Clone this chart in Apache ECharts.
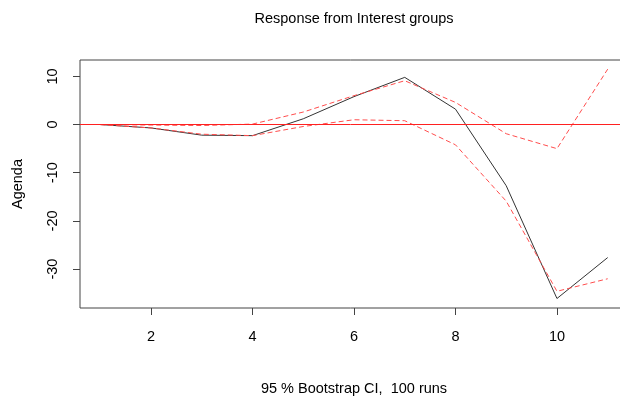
<!DOCTYPE html>
<html>
<head>
<meta charset="utf-8">
<script src="https://cdn.jsdelivr.net/npm/echarts@6/dist/echarts.min.js"></script>
<style>
  html, body { margin: 0; padding: 0; background: #fff; }
  #chart { width: 620px; height: 402px; }
</style>
</head>
<body>
<div id="chart"></div>
<script>
// horizon steps and the impulse response with its bootstrap band
const steps = [1, 2, 3, 4, 5, 6, 7, 8, 9, 10, 11]
const response = [0, -0.7, -2.2, -2.3, 1.2, 5.8, 9.8, 3.2, -12.7, -36.1, -27.6]
const upper = [0, -0.1, -0.2, 0.1, 2.6, 6.0, 9.1, 4.6, -1.9, -5.0, 11.5]
const lower = [0, -0.7, -2.0, -2.3, -0.4, 1.0, 0.8, -4.2, -15.9, -34.6, -32.0]
const xTicks = [2, 4, 6, 8, 10]
const yTicks = [-30, -20, -10, 0, 10]

const pairs = (ys) => steps.map((x, i) => [x, ys[i]])

const font = 'Liberation Sans, Arial, sans-serif'
const chart = echarts.init(document.getElementById('chart'))

const dashed = {
  type: 'line',
  symbol: 'none',
  silent: true,
  lineStyle: { color: '#ff4d4d', width: 1, type: [5, 3] }
}

chart.setOption({
  animation: false,
  title: {
    text: 'Response from Interest groups',
    left: 349,
    top: 6,
    textAlign: 'center',
    textStyle: { fontFamily: font, fontSize: 14.5, fontWeight: 'normal', color: '#000' }
  },
  grid: {
    left: 80,
    top: 60,
    width: 548,
    height: 248,
    outerBoundsMode: 'none',
    show: true,
    borderColor: '#444',
    borderWidth: 1
  },
  xAxis: {
    type: 'value',
    min: 0.6,
    max: 11.4,
    name: '95 % Bootstrap CI,  100 runs',
    nameLocation: 'middle',
    nameGap: 73,
    nameTextStyle: { fontFamily: font, fontSize: 14.5, color: '#000' },
    axisLine: { show: false, onZero: false },
    splitLine: { show: false },
    axisTick: { show: true, length: 7, lineStyle: { color: '#444' }, customValues: xTicks },
    axisLabel: { fontFamily: font, fontSize: 14.5, color: '#000', margin: 21, customValues: xTicks }
  },
  yAxis: {
    type: 'value',
    min: -38.07,
    max: 13.4,
    name: 'Agenda',
    nameLocation: 'middle',
    nameGap: 55,
    nameRotate: 90,
    nameTextStyle: { fontFamily: font, fontSize: 14.5, color: '#000' },
    axisLine: { show: false, onZero: false },
    splitLine: { show: false },
    axisTick: { show: true, length: 7, lineStyle: { color: '#444' }, customValues: yTicks },
    axisLabel: { fontFamily: font, fontSize: 14.5, color: '#000', margin: 20, rotate: 90, customValues: yTicks }
  },
  series: [
    {
      type: 'line',
      symbol: 'none',
      silent: true,
      data: pairs(response),
      lineStyle: { color: '#333', width: 1 },
      markLine: {
        silent: true,
        symbol: 'none',
        label: { show: false },
        lineStyle: { color: '#ff2020', width: 1, type: 'solid' },
        data: [{ yAxis: 0 }]
      },
      z: 3
    },
    Object.assign({ data: pairs(upper) }, dashed),
    Object.assign({ data: pairs(lower) }, dashed)
  ]
})
</script>
</body>
</html>
